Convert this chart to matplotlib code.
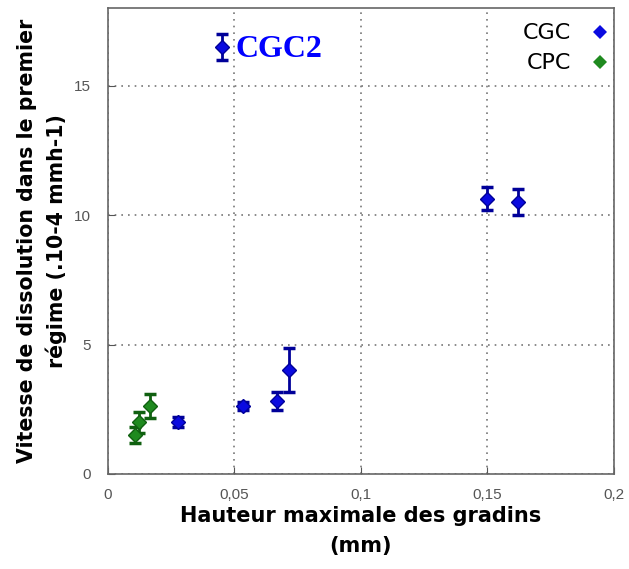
import matplotlib
matplotlib.use("Agg")
import matplotlib.pyplot as plt
from matplotlib.ticker import FuncFormatter

# CGC series
cgc_x = [0.045, 0.0277, 0.0534, 0.0668, 0.0715, 0.150, 0.162]
cgc_y = [16.5, 2.0, 2.63, 2.82, 4.0, 10.63, 10.5]
cgc_err = [0.5, 0.2, 0.15, 0.35, 0.85, 0.45, 0.5]

# CPC series
cpc_x = [0.0107, 0.0123, 0.0166]
cpc_y = [1.5, 2.0, 2.63]
cpc_err = [0.3, 0.4, 0.47]

xticks = [0, 0.05, 0.1, 0.15, 0.2]
yticks = [0, 5, 10, 15]

plt.rcParams['font.family'] = ['Liberation Sans', 'DejaVu Sans']

fig = plt.figure(figsize=(6.29, 5.69), dpi=100)
ax = fig.add_axes([0.1717, 0.167, 0.8043, 0.819])

ax.errorbar(cgc_x, cgc_y, yerr=cgc_err, fmt='D', color='#0000cc', mfc='#0a0ae0',
            mec='#000099', ms=7.5, capsize=4, elinewidth=2, capthick=2.5,
            ecolor='#000099', label='CGC', zorder=3)
ax.errorbar(cpc_x, cpc_y, yerr=cpc_err, fmt='D', color='#1a7a1a', mfc='#1f8a1f',
            mec='#106010', ms=7.5, capsize=4, elinewidth=2, capthick=2.5,
            ecolor='#106010', label='CPC', zorder=3)

ax.text(0.0505, 16.4, 'CGC2', color='#0000ff', fontsize=23, fontweight='bold',
        family='Liberation Serif', va='center', ha='left')

ax.set_xlim(0, 0.2)
ax.set_ylim(0, 18)
ax.set_xticks(xticks)
ax.set_yticks(yticks)
ax.xaxis.set_major_formatter(FuncFormatter(lambda v, p: ('%g' % v).replace('.', ',')))
ax.tick_params(direction='in', colors='#555555', labelsize=11, length=5, pad=10)
ax.tick_params(axis='y', pad=12)
ax.grid(True, linestyle=(0, (1, 3)), color='#777777', linewidth=1.2)
for s in ax.spines.values():
    s.set_color('#666666')
    s.set_linewidth(1.2)

ax.set_xlabel('Hauteur maximale des gradins\n(mm)', fontsize=15, fontweight='bold',
              family='DejaVu Sans', labelpad=3, linespacing=1.6)
ax.set_ylabel('Vitesse de dissolution dans le premier\nrégime (.10-4 mmh-1)', fontsize=14.8,
              fontweight='bold', family='DejaVu Sans', labelpad=5, linespacing=1.5)

handles, labels = ax.get_legend_handles_labels()
handles = [h[0] for h in handles]
leg = ax.legend(handles, labels, loc='upper right', bbox_to_anchor=(1.004, 0.981),
                markerfirst=False, frameon=False,
                prop={'family': 'DejaVu Sans', 'size': 16}, handlelength=0.8,
                handletextpad=0.9, labelspacing=0.45, borderaxespad=0, borderpad=0.3)
for h in leg.legend_handles:
    h.set_markeredgewidth(0)
    h.set_markersize(7)

fig.savefig('out.png', dpi=100)
